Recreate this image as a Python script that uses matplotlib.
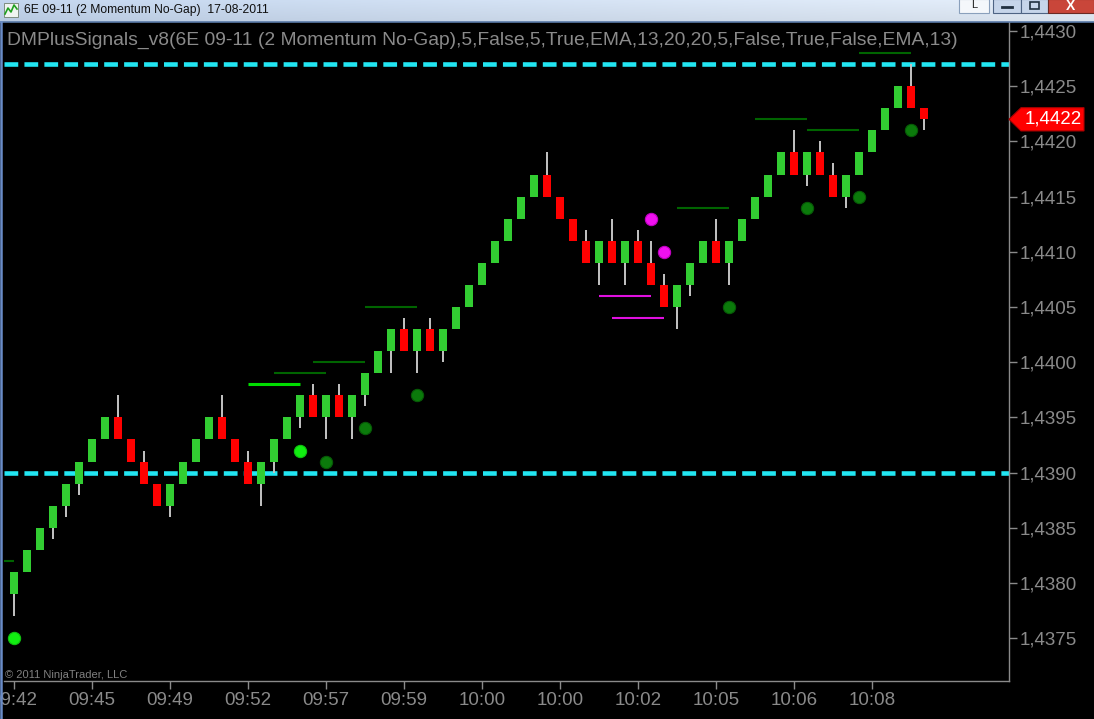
import matplotlib
matplotlib.use("Agg")
import matplotlib.pyplot as plt
import numpy as np
from matplotlib.patches import Rectangle, Polygon
from matplotlib.transforms import blended_transform_factory

plt.rcParams['font.family'] = ['Liberation Sans', 'DejaVu Sans']

# ---------------- data ----------------
window_title = "6E 09-11 (2 Momentum No-Gap)  17-08-2011"
indicator_title = ("DMPlusSignals_v8(6E 09-11 (2 Momentum No-Gap),5,False,5,True,EMA,"
                   "13,20,20,5,False,True,False,EMA,13)")

opens = [1.4379, 1.4381, 1.4383, 1.4385, 1.4387, 1.4389, 1.4391, 1.4393, 1.4395, 1.4393,
         1.4391, 1.4389, 1.4387, 1.4389, 1.4391, 1.4393, 1.4395, 1.4393, 1.4391, 1.4389,
         1.4391, 1.4393, 1.4395, 1.4397, 1.4395, 1.4397, 1.4395, 1.4397, 1.4399, 1.4401,
         1.4403, 1.4401, 1.4403, 1.4401, 1.4403, 1.4405, 1.4407, 1.4409, 1.4411, 1.4413,
         1.4415, 1.4417, 1.4415, 1.4413, 1.4411, 1.4409, 1.4411, 1.4409, 1.4411, 1.4409,
         1.4407, 1.4405, 1.4407, 1.4409, 1.4411, 1.4409, 1.4411, 1.4413, 1.4415, 1.4417,
         1.4419, 1.4417, 1.4419, 1.4417, 1.4415, 1.4417, 1.4419, 1.4421, 1.4423, 1.4425,
         1.4423]
closes = [1.4381, 1.4383, 1.4385, 1.4387, 1.4389, 1.4391, 1.4393, 1.4395, 1.4393, 1.4391,
          1.4389, 1.4387, 1.4389, 1.4391, 1.4393, 1.4395, 1.4393, 1.4391, 1.4389, 1.4391,
          1.4393, 1.4395, 1.4397, 1.4395, 1.4397, 1.4395, 1.4397, 1.4399, 1.4401, 1.4403,
          1.4401, 1.4403, 1.4401, 1.4403, 1.4405, 1.4407, 1.4409, 1.4411, 1.4413, 1.4415,
          1.4417, 1.4415, 1.4413, 1.4411, 1.4409, 1.4411, 1.4409, 1.4411, 1.4409, 1.4407,
          1.4405, 1.4407, 1.4409, 1.4411, 1.4409, 1.4411, 1.4413, 1.4415, 1.4417, 1.4419,
          1.4417, 1.4419, 1.4417, 1.4415, 1.4417, 1.4419, 1.4421, 1.4423, 1.4425, 1.4423,
          1.4422]
highs = [1.4381, 1.4383, 1.4385, 1.4387, 1.4389, 1.4391, 1.4393, 1.4395, 1.4397, 1.4393,
         1.4392, 1.4389, 1.4389, 1.4391, 1.4393, 1.4395, 1.4397, 1.4393, 1.4392, 1.4391,
         1.4393, 1.4395, 1.4397, 1.4398, 1.4397, 1.4398, 1.4397, 1.4399, 1.4401, 1.4403,
         1.4404, 1.4403, 1.4404, 1.4403, 1.4405, 1.4407, 1.4409, 1.4411, 1.4413, 1.4415,
         1.4417, 1.4419, 1.4415, 1.4413, 1.4412, 1.4411, 1.4413, 1.4411, 1.4412, 1.4411,
         1.4408, 1.4407, 1.4409, 1.4411, 1.4413, 1.4411, 1.4413, 1.4415, 1.4417, 1.4419,
         1.4421, 1.4419, 1.4420, 1.4418, 1.4417, 1.4419, 1.4421, 1.4423, 1.4425, 1.4427,
         1.4423]
lows = [1.4377, 1.4381, 1.4383, 1.4384, 1.4386, 1.4388, 1.4391, 1.4393, 1.4393, 1.4391,
        1.4389, 1.4387, 1.4386, 1.4389, 1.4391, 1.4393, 1.4393, 1.4391, 1.4389, 1.4387,
        1.4390, 1.4393, 1.4394, 1.4395, 1.4393, 1.4395, 1.4393, 1.4396, 1.4399, 1.4399,
        1.4401, 1.4399, 1.4401, 1.4400, 1.4403, 1.4405, 1.4407, 1.4409, 1.4411, 1.4413,
        1.4415, 1.4415, 1.4413, 1.4411, 1.4409, 1.4407, 1.4409, 1.4407, 1.4409, 1.4407,
        1.4405, 1.4403, 1.4406, 1.4409, 1.4409, 1.4407, 1.4411, 1.4413, 1.4415, 1.4417,
        1.4417, 1.4416, 1.4417, 1.4415, 1.4414, 1.4417, 1.4419, 1.4421, 1.4423, 1.4423,
        1.4421]

# signal segments (bar index start/end, price, kind)
seg_start = [-4, 18, 20, 23, 27, 45, 46, 51, 57, 61, 65]
seg_end = [0, 22, 24, 27, 31, 49, 50, 55, 61, 65, 69]
seg_price = [1.4382, 1.4398, 1.4399, 1.4400, 1.4405, 1.4406, 1.4404, 1.4414, 1.4422, 1.4421, 1.4428]
seg_kind = ['dark', 'bright', 'dark', 'dark', 'dark', 'magenta', 'magenta', 'dark', 'dark', 'dark', 'dark']

# signal dots
dot_bar = [0, 22, 24, 27, 31, 49, 50, 55, 61, 65, 69]
dot_price = [1.4375, 1.4392, 1.4391, 1.4394, 1.4397, 1.4413, 1.4410, 1.4405, 1.4414, 1.4415, 1.4421]
dot_kind = ['bright', 'bright', 'dark', 'dark', 'dark', 'magenta', 'magenta', 'dark', 'dark', 'dark', 'dark']

# horizontal levels
levels = [1.4427, 1.4390]

y_ticks = [1.4375, 1.4380, 1.4385, 1.4390, 1.4395, 1.4400, 1.4405, 1.4410, 1.4415, 1.4420, 1.4425, 1.4430]
x_tick_bars = [0, 6, 12, 18, 24, 30, 36, 42, 48, 54, 60, 66]
x_tick_labels = ["09:42", "09:45", "09:49", "09:52", "09:57", "09:59", "10:00", "10:00",
                 "10:02", "10:05", "10:06", "10:08"]
last_price = closes[-1]

# ---------------- style ----------------
W, H = 1094, 719
GREEN = '#32CD32'
RED = '#FF0000'
WICK = '#C4C4C4'
GRAY = '#8a8a8a'
seg_colors = {'dark': '#006400', 'bright': '#00DD00', 'magenta': '#E010E0'}
seg_widths = {'dark': 1.5, 'bright': 2.2, 'magenta': 1.5}
dot_colors = {'dark': '#0B7A0B', 'bright': '#11EE11', 'magenta': '#F010F0'}
dot_edges = {'dark': '#075A07', 'bright': '#10C010', 'magenta': '#C000C0'}

fig = plt.figure(figsize=(W / 100, H / 100), dpi=100, facecolor='black')
ax = fig.add_axes([4 / W, 38 / H, 1005 / W, 659 / H], facecolor='black')

x = np.arange(len(opens))
o = np.array(opens)
c = np.array(closes)
ax.vlines(x, lows, highs, color=WICK, lw=1.4, zorder=2)
bar_colors = [GREEN if cc > oo else RED for oo, cc in zip(o, c)]
ax.bar(x, c - o, bottom=o, width=0.62, color=bar_colors, linewidth=0, zorder=3)

for lv in levels:
    ax.axhline(lv, color='#22E6F2', lw=3.3, linestyle=(0, (3.0, 1.35)), zorder=1)

for s, e, p, k in zip(seg_start, seg_end, seg_price, seg_kind):
    ax.hlines(p, s, e, color=seg_colors[k], lw=seg_widths[k], zorder=4)

for b, p, k in zip(dot_bar, dot_price, dot_kind):
    ax.scatter([b], [p], s=78, color=dot_colors[k], edgecolors=dot_edges[k],
               linewidths=0.8, zorder=5)

# axis limits (pixel mapping)
ax.set_xlim((4 - 14) / 13, (1009 - 14) / 13)
ax.set_ylim(1.4430 - (681 - 31) / 110400, 1.4430 + (31 - 22) / 110400)

for sp in ['top', 'left']:
    ax.spines[sp].set_visible(False)
for sp in ['right', 'bottom']:
    ax.spines[sp].set_color(GRAY)
    ax.spines[sp].set_linewidth(1.0)

ax.yaxis.tick_right()
ax.set_yticks(y_ticks)
ax.set_yticklabels([f"{v:.4f}".replace('.', ',') for v in y_ticks])
ax.set_xticks(x_tick_bars)
ax.set_xticklabels(x_tick_labels)
ax.tick_params(axis='y', colors=GRAY, labelcolor=GRAY, length=6, width=1, pad=2, labelsize=13.5)
ax.tick_params(axis='x', colors=GRAY, labelcolor=GRAY, length=6, width=1, pad=2, labelsize=13.5)

# price tag
trans = blended_transform_factory(ax.transAxes, ax.transData)
fx = lambda px: (px - 4) / 1005
dh = 0.000105
tag = Polygon([(fx(1009), last_price), (fx(1021), last_price + dh), (fx(1084), last_price + dh),
               (fx(1084), last_price - dh), (fx(1021), last_price - dh)], closed=True,
              transform=trans, facecolor='#FF0000', edgecolor='#B00000', lw=0.8,
              clip_on=False, zorder=6)
ax.add_patch(tag)
ax.text(fx(1053), last_price, f"{last_price:.4f}".replace('.', ','), transform=trans,
        color='white', fontsize=13.5, ha='center', va='center', clip_on=False, zorder=7)

# texts in chart
fig.text(7 / W, 1 - 40 / H, indicator_title, color=GRAY, fontsize=13.9, ha='left', va='center')
fig.text(5 / W, 1 - 675 / H, "\u00a9 2011 NinjaTrader, LLC", color='#808080', fontsize=8,
         ha='left', va='center')

# ---------------- window chrome overlay ----------------
ov = fig.add_axes([0, 0, 1, 1])
ov.patch.set_alpha(0)
ov.axis('off')
grad = np.zeros((22, 200, 3))
left_c = np.array([192, 210, 234]) / 255
right_c = np.array([226, 235, 246]) / 255
tt = np.linspace(0, 1, 200)[None, :, None]
vv = np.linspace(0, 1, 22)[:, None, None]
grad[:] = left_c * (1 - tt) + right_c * tt
grad = grad * (1.02 - 0.06 * vv)
grad = np.clip(grad, 0, 1)
ov.imshow(grad, extent=(0, W, 22, 0), aspect='auto', zorder=0)
ov.plot([0, W], [21.5, 21.5], color='#5A7AA8', lw=1.2)
ov.plot([1.2, 1.2], [22, H], color='#6A8CC8', lw=1.8)
# icon
ov.add_patch(Rectangle((4, 3), 14, 14, facecolor='#F0F4F0', edgecolor='#708070', lw=0.6))
ov.plot([5, 8, 11, 14, 17], [14, 8, 12, 5, 9], color='#20A020', lw=1.2)
ov.text(24, 10.5, window_title, color='#101010', fontsize=8.7, ha='left', va='center')
# buttons
ov.add_patch(Rectangle((959, -1), 30, 14, facecolor='#F4F7FB', edgecolor='#8AA0BC', lw=0.8))
ov.text(974, 5.5, "L", color='#202020', fontsize=8, ha='center', va='center')
ov.add_patch(Rectangle((993, -1), 28, 14, facecolor='#C6D5EA', edgecolor='#4E6484', lw=0.8))
ov.add_patch(Rectangle((1021, -1), 27, 14, facecolor='#C6D5EA', edgecolor='#4E6484', lw=0.8))
ov.add_patch(Rectangle((1048, -1), 46, 14, facecolor='#C9463A', edgecolor='#6A2A24', lw=0.8))
ov.plot([1002, 1012], [7, 7], color='#203040', lw=2)
ov.add_patch(Rectangle((1030, 2), 9, 7, facecolor='none', edgecolor='#203040', lw=1.2))
ov.text(1071, 5.5, "X", color='white', fontsize=10, fontweight='bold', ha='center', va='center')
ov.set_xlim(0, W)
ov.set_ylim(H, 0)

fig.savefig('out.png', dpi=100, facecolor='black')
